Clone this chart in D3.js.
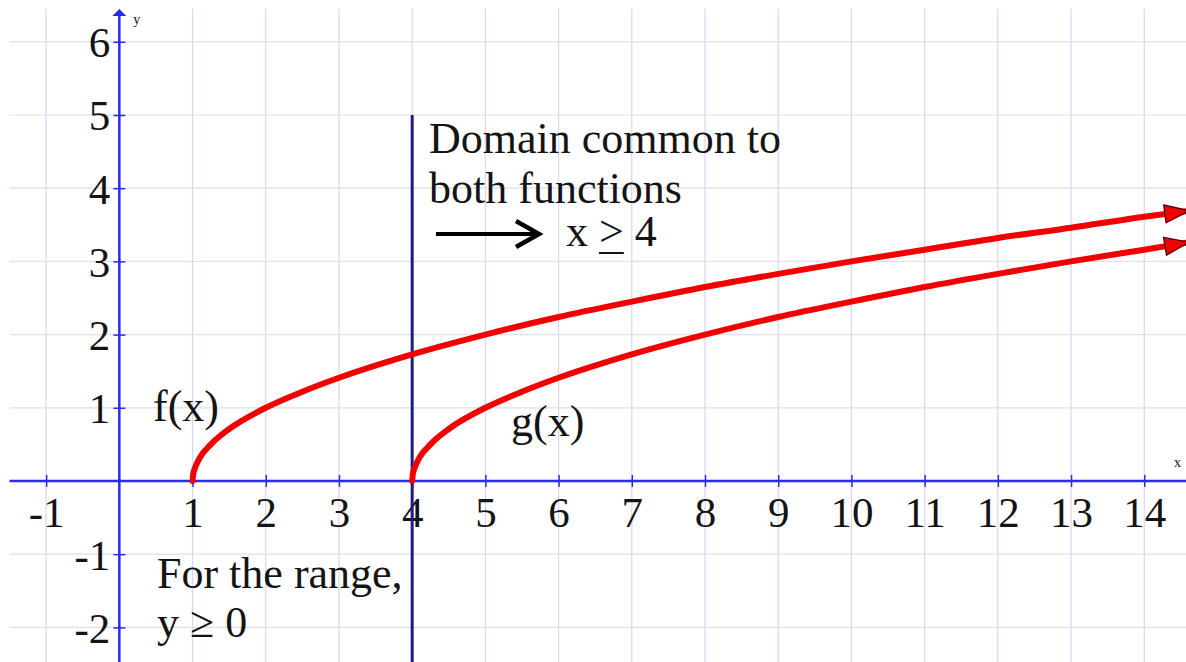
<!DOCTYPE html>
<html>
<head>
<meta charset="utf-8">
<script src="https://cdn.jsdelivr.net/npm/d3@7"></script>
<style>
  html, body { margin: 0; padding: 0; background: #fff; }
  svg { display: block; }
  text { font-family: "Liberation Serif", "Times New Roman", serif; fill: #141414; }
</style>
</head>
<body>
<svg id="chart" width="1186" height="662"></svg>
<script>
// Tick labels on each axis
const xTickValues = [-1, 1, 2, 3, 4, 5, 6, 7, 8, 9, 10, 11, 12, 13, 14];
const yTickValues = [-2, -1, 1, 2, 3, 4, 5, 6];
// Grid lines at every whole unit
const xGridValues = [-1, 0, 1, 2, 3, 4, 5, 6, 7, 8, 9, 10, 11, 12, 13, 14];
const yGridValues = [-2, -1, 0, 1, 2, 3, 4, 5, 6];

// f(x) = sqrt(x - 1)
const fX = [1, 1.01, 1.03, 1.1, 1.25, 1.5, 2, 2.5, 3, 4, 5, 6, 7, 8, 9, 10, 11, 12, 13, 14, 14.6];
const fY = [0, 0.1, 0.17, 0.32, 0.5, 0.71, 1, 1.22, 1.41, 1.73, 2, 2.24, 2.45, 2.65, 2.83, 3, 3.16, 3.32, 3.46, 3.61, 3.69];
// g(x) = sqrt(x - 4)
const gX = [4, 4.01, 4.03, 4.1, 4.25, 4.5, 5, 5.5, 6, 7, 8, 9, 10, 11, 12, 13, 14, 14.6];
const gY = [0, 0.1, 0.17, 0.32, 0.5, 0.71, 1, 1.22, 1.41, 1.73, 2, 2.24, 2.45, 2.65, 2.83, 3, 3.16, 3.26];

// Boundary of the common domain
const domainStart = 4;
const domainLineTop = 5;

const width = 1186, height = 662;
const svg = d3.select("#chart");

const x = d3.scaleLinear().domain([-1.63, 14.57]).range([0, width]);
const y = d3.scaleLinear().domain([-2.473, 6.571]).range([height, 0]);

const serif = '"Liberation Serif", "Times New Roman", serif';
const big = "44px";
const tickFont = "43px";

// Grid
const grid = svg.append("g");
grid.selectAll("line.gv").data(xGridValues).join("line")
  .attr("x1", d => x(d)).attr("x2", d => x(d))
  .attr("y1", y(6.45)).attr("y2", height)
  .attr("stroke", "#d6d6f6").attr("stroke-width", 1.2);
grid.selectAll("line.gh").data(yGridValues).join("line")
  .attr("x1", x(-1.5)).attr("x2", width)
  .attr("y1", d => y(d)).attr("y2", d => y(d))
  .attr("stroke", "#dedeec").attr("stroke-width", 1.2);

const axisColor = "#2a2af0";

// x axis
const xAxis = svg.append("g")
  .attr("transform", `translate(0,${y(0)})`)
  .call(d3.axisBottom(x).tickValues(xTickValues).tickSize(6).tickFormat(d => String(d)));
xAxis.select(".domain").remove();
xAxis.append("line")
  .attr("x1", x(-1.5)).attr("x2", width)
  .attr("stroke", axisColor).attr("stroke-width", 2.5);
xAxis.selectAll(".tick line").attr("y1", -6).attr("y2", 6)
  .attr("stroke", axisColor).attr("stroke-width", 1.5);
xAxis.selectAll(".tick text")
  .attr("y", 46).attr("dy", 0)
  .style("font-family", serif)
  .style("font-size", tickFont).attr("fill", "#141414");

// y axis
const yAxis = svg.append("g")
  .attr("transform", `translate(${x(0)},0)`)
  .call(d3.axisLeft(y).tickValues(yTickValues).tickSize(6).tickFormat(d => String(d)));
yAxis.select(".domain").remove();
yAxis.append("line")
  .attr("y1", 13).attr("y2", height)
  .attr("stroke", axisColor).attr("stroke-width", 2.5);
yAxis.append("path")
  .attr("d", "M-7,16 L0,9 L7,16 Z")
  .attr("fill", axisColor);
yAxis.selectAll(".tick line").attr("x1", -6).attr("x2", 6)
  .attr("stroke", axisColor).attr("stroke-width", 1.5);
yAxis.selectAll(".tick text")
  .attr("x", -9).attr("dy", 15)
  .style("font-family", serif)
  .style("font-size", tickFont).attr("fill", "#141414");

// axis names
svg.append("text").attr("x", x(0) + 14).attr("y", 24)
  .style("font-size", "14px").text("y");
svg.append("text").attr("x", 1174).attr("y", y(0) - 14)
  .style("font-size", "14px").text("x");

// Domain boundary line
svg.append("line")
  .attr("x1", x(domainStart)).attr("x2", x(domainStart))
  .attr("y1", y(domainLineTop)).attr("y2", height)
  .attr("stroke", "#1c1c88").attr("stroke-width", 3);

// Arrowhead marker for the curves
const defs = svg.append("defs");
defs.append("marker")
  .attr("id", "redArrow")
  .attr("markerUnits", "userSpaceOnUse")
  .attr("viewBox", "0 0 28 22")
  .attr("markerWidth", 28).attr("markerHeight", 22)
  .attr("refX", 25).attr("refY", 11)
  .attr("orient", "auto")
  .append("path")
  .attr("d", "M1.5,2 L26,11 L1.5,20 Z")
  .attr("fill", "#f00000").attr("stroke", "#5a0000").attr("stroke-width", 1.3);

const line = d3.line()
  .x(d => x(d[0])).y(d => y(d[1]))
  .curve(d3.curveMonotoneX);

const fData = fX.map((v, i) => [v, fY[i]]);
const gData = gX.map((v, i) => [v, gY[i]]);

[fData, gData].forEach(data => {
  svg.append("path")
    .datum(data)
    .attr("d", line)
    .attr("fill", "none")
    .attr("stroke", "#f00000")
    .attr("stroke-width", 6)
    .attr("stroke-linecap", "round")
    .attr("marker-end", "url(#redArrow)");
});

// Labels
svg.append("text").attr("x", 153).attr("y", 421).style("font-size", big).text("f(x)");
svg.append("text").attr("x", 511).attr("y", 436).style("font-size", big).text("g(x)");

svg.append("text").attr("x", 429).attr("y", 153).style("font-size", big).text("Domain common to");
svg.append("text").attr("x", 429).attr("y", 203).style("font-size", big).text("both functions");

// Black pointer arrow
svg.append("line")
  .attr("x1", 436).attr("x2", 538).attr("y1", 234).attr("y2", 234)
  .attr("stroke", "#000").attr("stroke-width", 4);
svg.append("path")
  .attr("d", "M516,221 L539,234 L516,247")
  .attr("fill", "none").attr("stroke", "#000").attr("stroke-width", 4.5)
  .attr("stroke-linejoin", "miter");

const xCond = svg.append("text").attr("x", 566).attr("y", 246).style("font-size", big);
xCond.append("tspan").text("x ");
xCond.append("tspan").attr("id", "gtSign").text(">");
xCond.append("tspan").text(" 4");
const gtBox = document.getElementById("gtSign").getBBox();
svg.append("line")
  .attr("x1", gtBox.x).attr("x2", gtBox.x + gtBox.width)
  .attr("y1", 253).attr("y2", 253)
  .attr("stroke", "#141414").attr("stroke-width", 2);

svg.append("text").attr("x", 157).attr("y", 588).style("font-size", big).text("For the range,");
svg.append("text").attr("x", 157).attr("y", 637).style("font-size", big).text("y \u2265 0");
</script>
</body>
</html>
